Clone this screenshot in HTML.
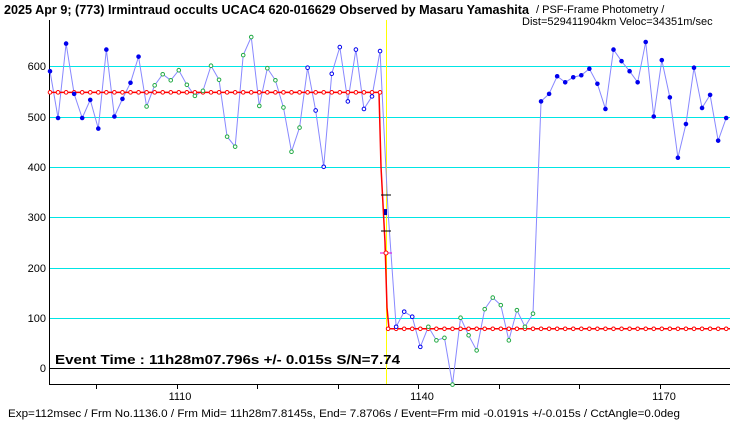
<!DOCTYPE html><html><head><style>body{margin:0;background:#fff;}svg text{font-family:"Liberation Sans","Noto Sans CJK JP",sans-serif;}</style></head><body>
<svg id="s" width="740" height="425" xmlns="http://www.w3.org/2000/svg">
<rect width="740" height="425" fill="#fff"/>
<text x="4" y="14" font-size="12.5" font-weight="bold" textLength="525" lengthAdjust="spacingAndGlyphs">2025 Apr 9; (773) Irmintraud occults UCAC4 620-016629 Observed by Masaru Yamashita</text>
<text x="536" y="13" font-size="11">/ PSF-Frame Photometry /</text>
<text x="522" y="25" font-size="11">Dist=529411904km Veloc=34351m/sec</text>
<g stroke="#00e5e5" stroke-width="1">
<line x1="50" x2="730" y1="66.5" y2="66.5"/><line x1="50" x2="730" y1="117.5" y2="117.5"/><line x1="50" x2="730" y1="167.5" y2="167.5"/><line x1="50" x2="730" y1="217.5" y2="217.5"/><line x1="50" x2="730" y1="268.5" y2="268.5"/><line x1="50" x2="730" y1="318.5" y2="318.5"/>
</g>
<line x1="50" x2="730" y1="368.5" y2="368.5" stroke="#000"/>
<line x1="386.5" x2="386.5" y1="20" y2="384" stroke="#ff0" />
<line x1="49.5" x2="49.5" y1="20" y2="384" stroke="#000"/>
<line x1="49" x2="730" y1="384.5" y2="384.5" stroke="#000"/>
<g font-size="11" text-anchor="end"><text x="46" y="70">600</text><text x="46" y="121">500</text><text x="46" y="171">400</text><text x="46" y="221">300</text><text x="46" y="272">200</text><text x="46" y="322">100</text><text x="46" y="372">0</text></g>
<g font-size="11" text-anchor="middle"><text x="180" y="400">1110</text><text x="422" y="400">1140</text><text x="664" y="400">1170</text></g>
<g id="ticks" stroke="#000"></g>
<g id="data"></g>
<text x="55" y="364" font-size="13" font-weight="bold" textLength="345" lengthAdjust="spacingAndGlyphs">Event Time : 11h28m07.796s  +/- 0.015s  S/N=7.74</text>
<text x="8" y="417" font-size="11" textLength="672" lengthAdjust="spacingAndGlyphs">Exp=112msec / Frm No.1136.0 / Frm Mid= 11h28m7.8145s,  End= 7.8706s / Event=Frm mid -0.0191s +/-0.015s / CctAngle=0.0deg</text>
</svg>
<script>
var v=[590,497,645,545,497,533,476,633,500,535,567,619,520,562,584,572,592,563,541,551,601,573,460,440,622,658,521,596,572,518,430,478,597,512,400,585,638,530,633,515,540,630,310,82,112,102,42,82,55,60,-33,100,65,35,117,140,125,55,115,82,108,530,545,580,568,578,582,595,565,515,633,610,590,568,648,500,612,538,418,485,597,517,543,452,497];
var X=f=>50+(f-1094)*8.05, Y=a=>368-a*0.503, ns="http://www.w3.org/2000/svg";
var s=document.getElementById('data'),t=document.getElementById('ticks');
function el(n,a,p){var e=document.createElementNS(ns,n);for(var k in a)e.setAttribute(k,a[k]);(p||s).appendChild(e);return e;}
for(var f=1100;f<=1170;f+=10){el('line',{x1:Math.round(X(f)-2)+.5,x2:Math.round(X(f)-2)+.5,y1:384,y2:389},t);}
el('polyline',{points:v.map((a,i)=>X(1094+i)+','+Y(a)).join(' '),fill:'none',stroke:'#8888ff','stroke-width':1});
var m=[];for(var i=0;i<v.length;i++){var f=1094+i;m.push(f<=1135?548:78);}
el('polyline',{points:'50,'+Y(548)+' 379,'+Y(548)+' 381,'+Y(400)+' 385,'+Y(250)+' 387,'+Y(120)+' 389,'+Y(78)+' 730,'+Y(78),fill:'none',stroke:'#f00','stroke-width':1.5});
for(var i=0;i<v.length;i++){var f=1094+i,x=X(f);
el('circle',{cx:x,cy:Y(m[i]),r:1.8,fill:'#fff',stroke:'#f00','stroke-width':1});
var c,fill;if(f<=1105||f>=1155){c='#0000ee';fill='#0000ee';}else if((f>=1126&&f<=1140))c='#0000ee',fill='#fff';else c='#22aa44',fill='#fff';
if(f==1136)continue;
el('circle',{cx:x,cy:Y(v[i]),r:1.8,fill:fill,stroke:c,'stroke-width':1});}
el('rect',{x:384,y:Y(310)-3,width:3,height:6,fill:'#0000aa'});
el('line',{x1:381,x2:391,y1:195,y2:195,stroke:'#000'});el('line',{x1:381,x2:391,y1:231,y2:231,stroke:'#000'});
el('line',{x1:380,x2:392,y1:253,y2:253,stroke:'#d0d'});el('circle',{cx:386,cy:253,r:2,fill:'#fff',stroke:'#f00'});
</script>
</body></html>
